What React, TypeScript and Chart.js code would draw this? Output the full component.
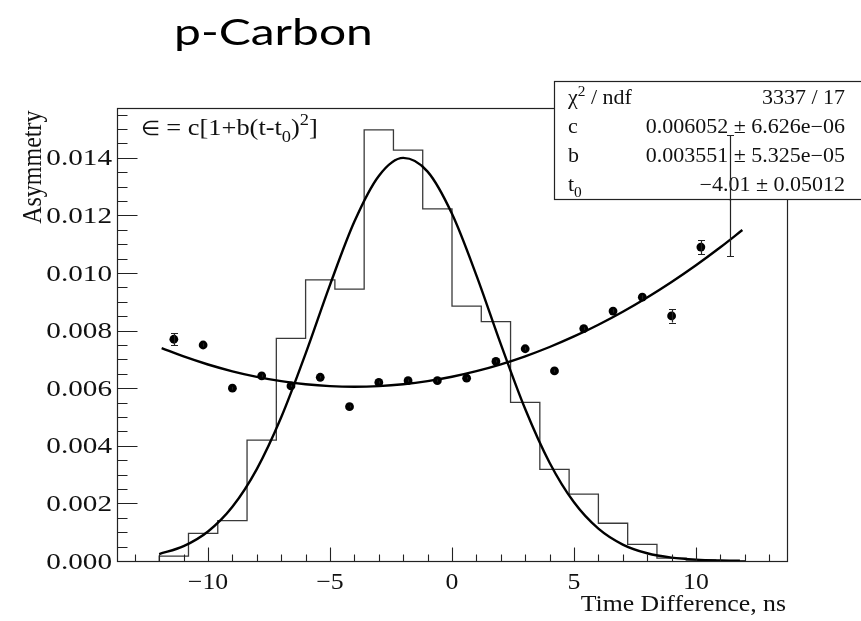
import React, { useEffect, useRef } from "react";
import { Chart, registerables } from "chart.js";

Chart.register(...registerables);

// ---------- text ----------
const TITLE = "p-Carbon";
const X_TITLE = "Time Difference, ns";
const Y_TITLE = "Asymmetry";

// ---------- axes ----------
const X_MIN = -13.73;
const X_MAX = 13.73;
const Y_MIN = 0;
const Y_MAX = 0.01573;
const X_TICKS = [-10, -5, 0, 5, 10];
const X_TICK_LABELS = ["\u221210", "\u22125", "0", "5", "10"];
const X_MINOR = [-13, -12, -11, -9, -8, -7, -6, -4, -3, -2, -1, 1, 2, 3, 4, 6, 7, 8, 9, 11, 12, 13];
const Y_TICKS = [0, 0.002, 0.004, 0.006, 0.008, 0.01, 0.012, 0.014];
const Y_TICK_LABELS = ["0.000", "0.002", "0.004", "0.006", "0.008", "0.010", "0.012", "0.014"];
const Y_MINOR = [
  0.0005, 0.001, 0.0015, 0.0025, 0.003, 0.0035, 0.0045, 0.005, 0.0055, 0.0065, 0.007, 0.0075,
  0.0085, 0.009, 0.0095, 0.0105, 0.011, 0.0115, 0.0125, 0.013, 0.0135, 0.0145, 0.015, 0.0155,
];

// ---------- measured asymmetry points ----------
const POINT_T = [-11.4, -10.2, -9.0, -7.8, -6.6, -5.4, -4.2, -3.0, -1.8, -0.6, 0.6, 1.8, 3.0, 4.2, 5.4, 6.6, 7.8, 9.0, 10.2, 11.4];
const POINT_A = [
  0.0077, 0.0075, 0.006, 0.00643, 0.00608, 0.00638, 0.00536, 0.0062, 0.00626, 0.00626,
  0.00635, 0.00693, 0.00737, 0.0066, 0.00807, 0.00868, 0.00916, 0.00851, 0.0109, 0.01268,
];
const POINT_ERR = [
  0.0002, 0.00006, 0.00005, 0.00005, 0.00004, 0.00004, 0.00004, 0.00004, 0.00004, 0.00004,
  0.00004, 0.00004, 0.00005, 0.00005, 0.00005, 0.00006, 0.00007, 0.00023, 0.00025, 0.0021,
];

// ---------- event time distribution (histogram) ----------
const HIST_EDGES = [-12, -10.8, -9.6, -8.4, -7.2, -6.0, -4.8, -3.6, -2.4, -1.2, 0, 1.2, 2.4, 3.6, 4.8, 6.0, 7.2, 8.4, 9.6, 10.8, 12];
const HIST_VALUES = [
  0.00017, 0.00096, 0.0014, 0.0042, 0.00773, 0.00976, 0.00944, 0.01497, 0.01427, 0.01223,
  0.00885, 0.00831, 0.00551, 0.00318, 0.00232, 0.00131, 0.00058, 0.0001, 0.00003, 0.00001,
];

// ---------- smooth profile curve over the histogram ----------
const PROFILE_T = [-12, -11, -10, -9, -8, -7, -6, -5, -4, -3, -2, -1, 0, 1, 2, 3, 4, 5, 6, 7, 8, 9, 10, 11, 11.8];
const PROFILE_Y = [
  0.000239, 0.000516, 0.001026, 0.001883, 0.003192, 0.004991, 0.007202, 0.009591, 0.011788,
  0.013371, 0.013997, 0.013522, 0.012056, 0.00992, 0.007533, 0.005279, 0.003414, 0.002038,
  0.001123, 0.000571, 0.000268, 0.000116, 0.000046, 0.000017, 0.000007,
];

// ---------- fitted asymmetry curve ----------
const FIT_T = [-11.9, -11, -10, -9, -8, -7, -6, -5, -4, -3, -2, -1, 0, 1, 2, 3, 4, 5, 6, 7, 8, 9, 10, 11, 11.9];
const FIT_A = [
  0.00739, 0.007102, 0.006823, 0.006587, 0.006394, 0.006244, 0.006137, 0.006073, 0.006052,
  0.006074, 0.006139, 0.006247, 0.006398, 0.006591, 0.006828, 0.007108, 0.007431, 0.007797,
  0.008205, 0.008657, 0.009152, 0.00969, 0.01027, 0.010894, 0.011492,
];

// ---------- stats box ----------
const STATS_VALUES = ["3337 / 17", "0.006052 \u00b1 6.626e\u221206", "0.003551 \u00b1 5.325e\u221205", "\u22124.01 \u00b1 0.05012"];

const SERIF = '"Liberation Serif", "Times New Roman", serif';
const SX = 1.12;

type Seg = { t: string; s?: number; dy?: number };

function drawRich(ctx: CanvasRenderingContext2D, segs: Seg[], x: number, y: number, size: number, sx: number, align: "left" | "right" = "left") {
  ctx.save();
  ctx.textBaseline = "alphabetic";
  ctx.textAlign = "left";
  let total = 0;
  const widths = segs.map((g) => {
    ctx.font = `${size * (g.s || 1)}px ${SERIF}`;
    const w = ctx.measureText(g.t).width * sx;
    total += w;
    return w;
  });
  let cx = align === "left" ? x : x - total;
  segs.forEach((g, i) => {
    ctx.save();
    ctx.font = `${size * (g.s || 1)}px ${SERIF}`;
    ctx.translate(cx, y + (g.dy || 0) * size);
    ctx.scale(sx, 1);
    ctx.fillText(g.t, 0, 0);
    ctx.restore();
    cx += widths[i];
  });
  ctx.restore();
}

function drawText(ctx: CanvasRenderingContext2D, text: string, x: number, y: number, font: string, sx: number, align: "left" | "right" | "center") {
  ctx.save();
  ctx.font = font;
  ctx.textAlign = "left";
  ctx.textBaseline = "alphabetic";
  const w = ctx.measureText(text).width * sx;
  const x0 = align === "left" ? x : align === "right" ? x - w : x - w / 2;
  ctx.translate(x0, y);
  ctx.scale(sx, 1);
  ctx.fillText(text, 0, 0);
  ctx.restore();
}

const decorPlugin = {
  id: "rootDecor",
  afterDatasetsDraw(chart: any) {
    const ctx: CanvasRenderingContext2D = chart.ctx;
    const xs = chart.scales.x;
    const ys = chart.scales.y;
    const area = chart.chartArea;
    const L = Math.round(area.left) + 0.5;
    const R = Math.round(area.right) + 0.5;
    const T = Math.round(area.top) + 0.5;
    const B = Math.round(area.bottom) + 0.5;

    ctx.save();
    ctx.fillStyle = "#111";
    ctx.strokeStyle = "#222";

    // frame
    ctx.lineWidth = 1.2;
    ctx.strokeRect(L, T, R - L, B - T);

    // ticks (inward)
    ctx.lineWidth = 1.1;
    ctx.beginPath();
    X_TICKS.forEach((v) => {
      const px = Math.round(xs.getPixelForValue(v)) + 0.5;
      ctx.moveTo(px, B);
      ctx.lineTo(px, B - 14);
    });
    X_MINOR.forEach((v) => {
      const px = Math.round(xs.getPixelForValue(v)) + 0.5;
      ctx.moveTo(px, B);
      ctx.lineTo(px, B - 7);
    });
    Y_TICKS.forEach((v) => {
      const py = Math.round(ys.getPixelForValue(v)) + 0.5;
      ctx.moveTo(L, py);
      ctx.lineTo(L + 20, py);
    });
    Y_MINOR.forEach((v) => {
      const py = Math.round(ys.getPixelForValue(v)) + 0.5;
      ctx.moveTo(L, py);
      ctx.lineTo(L + 10, py);
    });
    ctx.stroke();

    // tick labels
    X_TICKS.forEach((v, i) => {
      drawText(ctx, X_TICK_LABELS[i], xs.getPixelForValue(v), 588.5, `23px ${SERIF}`, SX, "center");
    });
    Y_TICKS.forEach((v, i) => {
      drawText(ctx, Y_TICK_LABELS[i], 112, ys.getPixelForValue(v) + 7.5, `23px ${SERIF}`, 1.27, "right");
    });

    // axis titles
    drawText(ctx, X_TITLE, 786, 611, `23px ${SERIF}`, SX, "right");
    ctx.save();
    ctx.font = `24px ${SERIF}`;
    ctx.textAlign = "right";
    ctx.textBaseline = "alphabetic";
    ctx.translate(41, T + 2);
    ctx.scale(SX, 1);
    ctx.rotate(-Math.PI / 2);
    ctx.fillText(Y_TITLE, 0, 0);
    ctx.restore();

    // formula
    drawRich(
      ctx,
      [
        { t: "\u2208", s: 0.85 },
        { t: " = c[1+b(t-t" },
        { t: "0", s: 0.7, dy: 0.3 },
        { t: ")" },
        { t: "2", s: 0.7, dy: -0.4 },
        { t: "]" },
      ],
      141,
      135,
      24,
      1.1
    );

    // stats box
    ctx.fillStyle = "#fff";
    ctx.fillRect(554.5, 81.5, 320, 118);
    ctx.strokeStyle = "#222";
    ctx.lineWidth = 1.2;
    ctx.strokeRect(554.5, 81.5, 320, 118);
    ctx.fillStyle = "#111";
    const rows = [103.5, 132.5, 161.5, 190.5];
    drawRich(ctx, [{ t: "\u03c7" }, { t: "2", s: 0.7, dy: -0.4 }, { t: " / ndf" }], 568, rows[0], 20, 1.1);
    drawRich(ctx, [{ t: "c" }], 568, rows[1], 20, 1.1);
    drawRich(ctx, [{ t: "b" }], 568, rows[2], 20, 1.1);
    drawRich(ctx, [{ t: "t" }, { t: "0", s: 0.7, dy: 0.3 }], 568, rows[3], 20, 1.1);
    STATS_VALUES.forEach((s, i) => {
      drawRich(ctx, [{ t: s }], 845, rows[i], 20, 1.1, "right");
    });

    // error bars (drawn over the box as in the original)
    ctx.strokeStyle = "#222";
    ctx.lineWidth = 1.2;
    ctx.beginPath();
    POINT_T.forEach((t, i) => {
      const px = Math.round(xs.getPixelForValue(t)) + 0.5;
      const y1 = ys.getPixelForValue(POINT_A[i] + POINT_ERR[i]);
      const y2 = ys.getPixelForValue(POINT_A[i] - POINT_ERR[i]);
      ctx.moveTo(px, y1);
      ctx.lineTo(px, y2);
      if (y2 - y1 > 10) {
        ctx.moveTo(px - 3.5, Math.round(y1) + 0.5);
        ctx.lineTo(px + 3.5, Math.round(y1) + 0.5);
        ctx.moveTo(px - 3.5, Math.round(y2) + 0.5);
        ctx.lineTo(px + 3.5, Math.round(y2) + 0.5);
      }
    });
    ctx.stroke();

    // title
    ctx.font = `37px Lato, "Open Sans", sans-serif`;
    ctx.fillStyle = "#000";
    const m = ctx.measureText(TITLE);
    const inkW = m.actualBoundingBoxLeft + m.actualBoundingBoxRight;
    const tsx = 194 / inkW;
    ctx.save();
    ctx.textAlign = "left";
    ctx.textBaseline = "alphabetic";
    ctx.translate(176.7 + m.actualBoundingBoxLeft * tsx, 45);
    ctx.scale(tsx, 1);
    ctx.fillText(TITLE, 0, 0);
    ctx.restore();

    ctx.restore();
  },
};

export default function App() {
  const ref = useRef<HTMLCanvasElement | null>(null);

  useEffect(() => {
    if (!ref.current) return;
    const histData: { x: number; y: number }[] = [{ x: HIST_EDGES[0], y: 0 }];
    HIST_VALUES.forEach((v, i) => histData.push({ x: HIST_EDGES[i], y: v }));
    histData.push({ x: HIST_EDGES[HIST_EDGES.length - 1], y: HIST_VALUES[HIST_VALUES.length - 1] });
    histData.push({ x: HIST_EDGES[HIST_EDGES.length - 1], y: 0 });

    const chart = new Chart(ref.current, {
      type: "scatter",
      data: {
        datasets: [
          {
            label: "Asymmetry",
            data: POINT_T.map((t, i) => ({ x: t, y: POINT_A[i] })),
            backgroundColor: "#000",
            borderColor: "#000",
            borderWidth: 0,
            pointRadius: 4.4,
            showLine: false,
          },
          {
            label: "Fit",
            data: FIT_T.map((t, i) => ({ x: t, y: FIT_A[i] })),
            showLine: true,
            borderColor: "#000",
            borderWidth: 2.4,
            pointRadius: 0,
            cubicInterpolationMode: "monotone",
          },
          {
            label: "Profile",
            data: PROFILE_T.map((t, i) => ({ x: t, y: PROFILE_Y[i] })),
            showLine: true,
            borderColor: "#000",
            borderWidth: 2.4,
            pointRadius: 0,
            cubicInterpolationMode: "monotone",
          },
          {
            label: "Distribution",
            data: histData,
            showLine: true,
            stepped: "before",
            borderColor: "#3a3a3a",
            borderWidth: 1.3,
            pointRadius: 0,
          },
        ] as any,
      },
      options: {
        animation: false,
        responsive: false,
        devicePixelRatio: 1,
        events: [],
        layout: { padding: { left: 117, right: 74, top: 108, bottom: 60 } },
        plugins: { legend: { display: false }, tooltip: { enabled: false }, title: { display: false } },
        scales: {
          x: { type: "linear", min: X_MIN, max: X_MAX, display: false },
          y: { type: "linear", min: Y_MIN, max: Y_MAX, display: false },
        },
      },
      plugins: [decorPlugin],
    });
    return () => chart.destroy();
  }, []);

  return (
    <div style={{ position: "fixed", left: 0, top: 0, width: 861, height: 621, background: "#fff" }}>
      <canvas ref={ref} width={861} height={621} style={{ display: "block" }} />
    </div>
  );
}
